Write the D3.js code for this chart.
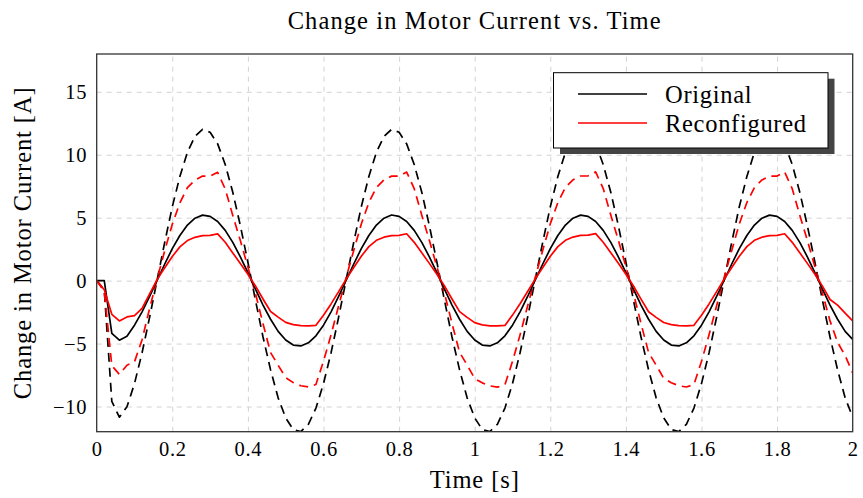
<!DOCTYPE html>
<html>
<head>
<meta charset="utf-8">
<script src="https://cdn.jsdelivr.net/npm/d3@7"></script>
<style>
    body { margin: 0; background: #fff; }
    text { font-family: "Liberation Serif", "Times New Roman", serif; fill: #000; }
</style>
</head>
<body>
<svg id="chart"></svg>
<script>
// samples every 0.02 s, t = 0 .. 2 s
var dt = 0.02;

var original = [
    0, 0, -4.19, -4.73, -4.42, -3.54, -2.48, -1.26, 0.03, 1.32, 2.54, 3.58, 4.41, 4.96, 5.20, 5.10, 4.70, 3.99, 3.04, 1.89, 0.63, -0.67, -1.94, -3.07, -4.03,
    -4.72, -5.12, -5.19, -4.94, -4.38, -3.54, -2.48, -1.26, 0.03, 1.32, 2.54, 3.58, 4.41, 4.96, 5.21, 5.10, 4.70, 3.99, 3.04, 1.89, 0.63, -0.67, -1.94, -3.07, -4.03,
    -4.72, -5.12, -5.19, -4.94, -4.38, -3.54, -2.48, -1.26, 0.04, 1.32, 2.54, 3.58, 4.41, 4.96, 5.20, 5.10, 4.70, 3.99, 3.04, 1.89, 0.63, -0.67, -1.94, -3.07, -4.03,
    -4.72, -5.12, -5.19, -4.94, -4.38, -3.54, -2.48, -1.26, 0.03, 1.32, 2.54, 3.58, 4.41, 4.96, 5.20, 5.10, 4.70, 3.99, 3.04, 1.89, 0.63, -0.67, -1.94, -3.07, -4.03,
    -4.67
];
var originalDashed = [
    0, -0.75, -9.60, -10.85, -10.02, -8.18, -5.73, -2.91, 0.07, 3.05, 5.87, 8.27, 10.19, 11.46, 12.01, 11.78, 10.86, 9.22, 7.02, 4.37, 1.46, -1.55, -4.48, -7.09, -9.31,
    -10.90, -11.83, -11.99, -11.41, -10.12, -8.18, -5.73, -2.91, 0.07, 3.05, 5.87, 8.27, 10.19, 11.46, 12.01, 11.78, 10.86, 9.22, 7.02, 4.37, 1.46, -1.55, -4.48, -7.09, -9.31,
    -10.90, -11.83, -11.99, -11.41, -10.12, -8.18, -5.73, -2.91, 0.08, 3.05, 5.87, 8.27, 10.19, 11.46, 12.01, 11.78, 10.86, 9.22, 7.02, 4.37, 1.46, -1.55, -4.48, -7.09, -9.31,
    -10.90, -11.83, -11.99, -11.41, -10.12, -8.18, -5.73, -2.91, 0.07, 3.05, 5.87, 8.27, 10.19, 11.46, 12.01, 11.78, 10.86, 9.22, 7.02, 4.37, 1.46, -1.55, -4.48, -7.09, -9.31,
    -10.84
];
var reconfigured = [
    0, -0.72, -2.68, -3.20, -2.88, -2.78, -2.20, -1.05, 0.10, 1.02, 1.92, 2.68, 3.18, 3.44, 3.57, 3.60, 3.71, 3.05, 2.20, 1.36, 0.50, -0.43, -1.46, -2.45, -2.90,
    -3.32, -3.50, -3.58, -3.60, -3.55, -2.75, -1.85, -0.87, 0.12, 1.04, 1.94, 2.70, 3.20, 3.45, 3.58, 3.60, 3.72, 3.04, 2.21, 1.37, 0.51, -0.42, -1.46, -2.46, -2.92,
    -3.34, -3.51, -3.59, -3.60, -3.56, -2.74, -1.84, -0.86, 0.12, 1.04, 1.93, 2.70, 3.20, 3.46, 3.59, 3.61, 3.73, 3.05, 2.22, 1.38, 0.51, -0.43, -1.47, -2.47, -2.92,
    -3.33, -3.50, -3.58, -3.60, -3.55, -2.75, -1.85, -0.87, 0.12, 1.04, 1.94, 2.70, 3.20, 3.45, 3.58, 3.60, 3.72, 3.04, 2.21, 1.37, 0.51, -0.44, -1.50, -1.95, -2.58,
    -3.19
];
var reconfiguredDashed = [
    0, -0.88, -6.75, -7.45, -6.72, -6.45, -4.70, -2.20, 0.15, 2.38, 4.48, 6.18, 7.38, 7.98, 8.30, 8.31, 8.60, 7.28, 5.18, 3.18, 1.08, -1.02, -3.42, -5.72, -6.72,
    -7.70, -8.10, -8.35, -8.45, -8.25, -6.40, -4.30, -2.00, 0.25, 2.40, 4.50, 6.20, 7.40, 8.00, 8.30, 8.30, 8.62, 7.30, 5.20, 3.20, 1.10, -1.00, -3.40, -5.70, -6.70,
    -7.78, -8.12, -8.36, -8.46, -8.26, -6.42, -4.31, -2.01, 0.24, 2.41, 4.51, 6.21, 7.41, 8.01, 8.31, 8.32, 8.64, 7.31, 5.21, 3.21, 1.11, -1.01, -3.41, -5.71, -6.71,
    -7.76, -8.11, -8.35, -8.45, -8.25, -6.41, -4.30, -2.00, 0.25, 2.40, 4.50, 6.20, 7.40, 8.00, 8.30, 8.30, 8.62, 7.30, 5.20, 3.20, 1.10, -1.00, -3.20, -4.90, -5.95,
    -7.33
];

var xTicks = [0, 0.2, 0.4, 0.6, 0.8, 1, 1.2, 1.4, 1.6, 1.8, 2];
var yTicks = [-10, -5, 0, 5, 10, 15];
var legendLabels = ["Original", "Reconfigured"];
var legendColors = ["#000", "#ff0000"];

var svgWidth = 863, svgHeight = 498;
var margin = {top: 54, right: 10.3, bottom: 66.3, left: 96.7};
var width = svgWidth - margin.left - margin.right;
var height = svgHeight - margin.top - margin.bottom;

var svg = d3.select("#chart")
    .attr("width", svgWidth)
    .attr("height", svgHeight);

var g = svg.append("g")
    .attr("transform", "translate(" + margin.left + "," + margin.top + ")");

var x = d3.scaleLinear().domain([0, 2]).range([0, width]);
var y = d3.scaleLinear().domain([-12, 18]).range([height, 0]);

// grid
var gx = g.append("g")
    .attr("transform", "translate(0," + height + ")")
    .call(d3.axisBottom(x).tickValues(xTicks.slice(1, -1)).tickSize(-height).tickFormat(""));
var gy = g.append("g")
    .call(d3.axisLeft(y).tickValues(yTicks).tickSize(-width).tickFormat(""));
[gx, gy].forEach(function(a) {
    a.select(".domain").remove();
    a.selectAll("line")
        .attr("stroke", "#d2d2d2")
        .attr("stroke-width", 1)
        .attr("stroke-dasharray", "5,5");
});

// tick labels
var ax = g.append("g")
    .attr("transform", "translate(0," + height + ")")
    .call(d3.axisBottom(x).tickValues(xTicks).tickSize(0).tickPadding(10)
        .tickFormat(function(d) { return String(d); }));
var ay = g.append("g")
    .call(d3.axisLeft(y).tickValues(yTicks).tickSize(0).tickPadding(9.5)
        .tickFormat(function(d) { return d < 0 ? "\u2212" + Math.abs(d) : String(d); }));
[ax, ay].forEach(function(a) {
    a.select(".domain").remove();
    a.selectAll("text")
        .attr("fill", "#000")
        .style("font-family", "'Liberation Serif', serif")
        .style("font-size", "20.5px")
        .style("letter-spacing", "0.7px");
});

// curves
svg.append("clipPath").attr("id", "plot-clip")
    .append("rect").attr("width", width).attr("height", height);

var line = d3.line()
    .x(function(d, i) { return x(i * dt); })
    .y(function(d) { return y(d); });

var series = [
    {values: originalDashed, color: "#000", dash: "9,6"},
    {values: reconfiguredDashed, color: "#ff0000", dash: "9,6"},
    {values: original, color: "#000", dash: null},
    {values: reconfigured, color: "#ff0000", dash: null}
];

var plot = g.append("g").attr("clip-path", "url(#plot-clip)");
series.forEach(function(s) {
    plot.append("path")
        .datum(s.values)
        .attr("fill", "none")
        .attr("stroke", s.color)
        .attr("stroke-width", 1.7)
        .attr("stroke-linejoin", "round")
        .attr("stroke-dasharray", s.dash)
        .attr("d", line);
});

// frame
g.append("rect")
    .attr("width", width)
    .attr("height", height)
    .attr("fill", "none")
    .attr("stroke", "#333")
    .attr("stroke-width", 1.3);

// titles
svg.append("text")
    .attr("x", margin.left + width / 2)
    .attr("y", 29)
    .attr("text-anchor", "middle")
    .style("font-size", "24.5px")
    .style("letter-spacing", "1.1px")
    .text("Change in Motor Current vs. Time");

svg.append("text")
    .attr("x", margin.left + width / 2)
    .attr("y", 488)
    .attr("text-anchor", "middle")
    .style("font-size", "24.5px")
    .style("letter-spacing", "0.9px")
    .text("Time [s]");

svg.append("text")
    .attr("transform", "translate(31," + (margin.top + height / 2) + ") rotate(-90)")
    .attr("text-anchor", "middle")
    .style("font-size", "24.5px")
    .style("letter-spacing", "0.9px")
    .text("Change in Motor Current [A]");

// legend
var legend = svg.append("g").attr("transform", "translate(553.5,72.7)");
legend.append("rect")
    .attr("x", 6.5).attr("y", 6)
    .attr("width", 274.5).attr("height", 75.3)
    .attr("fill", "#444");
legend.append("rect")
    .attr("width", 274.5).attr("height", 75.3)
    .attr("fill", "#fff")
    .attr("stroke", "#000")
    .attr("stroke-width", 1);

var item = legend.selectAll(".item")
    .data(legendLabels)
    .enter().append("g")
    .attr("class", "item")
    .attr("transform", function(d, i) { return "translate(0," + (21.3 + i * 29) + ")"; });
item.append("line")
    .attr("x1", 24.5).attr("x2", 93.5)
    .attr("stroke", function(d, i) { return legendColors[i]; })
    .attr("stroke-width", 1.7);
item.append("text")
    .attr("x", 111.5)
    .attr("y", 8.5)
    .style("font-size", "24.5px")
    .style("letter-spacing", "0.7px")
    .text(function(d) { return d; });
</script>
</body>
</html>
